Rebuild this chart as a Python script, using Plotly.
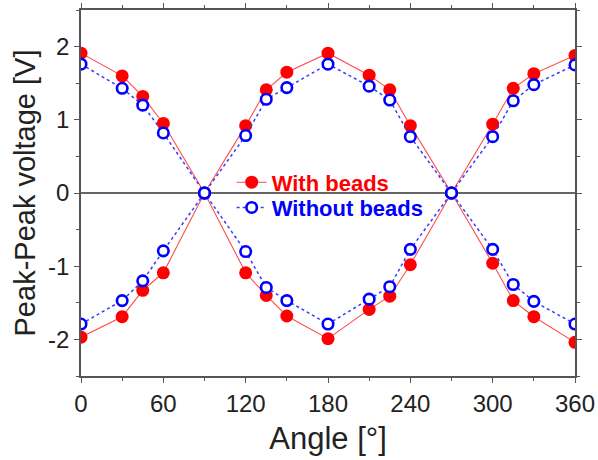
import plotly.graph_objects as go

# Rotation angle of the sensor [deg]
angles = [0, 30, 45, 60, 90, 120, 135, 150, 180, 210, 225, 240, 270, 300, 315, 330, 360]

# Peak-peak voltage [V], two signal branches per condition
with_beads_a = [1.91, 1.60, 1.32, 0.95, 0, -1.09, -1.40, -1.68, -1.99, -1.59, -1.41, -0.98, 0, 0.94, 1.43, 1.63, 1.88]
with_beads_b = [-1.97, -1.69, -1.33, -1.09, 0, 0.92, 1.41, 1.65, 1.91, 1.61, 1.41, 0.92, 0, -0.96, -1.47, -1.69, -2.04]
without_beads_a = [1.76, 1.43, 1.20, 0.82, 0, -0.80, -1.29, -1.47, -1.79, -1.45, -1.28, -0.77, 0, 0.77, 1.26, 1.48, 1.75]
without_beads_b = [-1.79, -1.47, -1.20, -0.79, 0, 0.785, 1.28, 1.44, 1.76, 1.46, 1.27, 0.77, 0, -0.77, -1.25, -1.48, -1.79]

x_ticks = [0, 60, 120, 180, 240, 300, 360]
y_ticks = [-2, -1, 0, 1, 2]
y_tick_text = ["-2", "-1", "0", "1", "2"]

FONT = "Liberation Sans, Arial, sans-serif"
RED = "#ff0000"
BLUE = "#0000ff"

fig = go.Figure()

for i, ys in enumerate([with_beads_a, with_beads_b]):
    fig.add_trace(go.Scatter(
        x=angles, y=ys, mode="lines+markers",
        name="<b>With beads</b>", legend="legend",
        showlegend=(i == 0),
        line=dict(color="#ff4d4d", width=1.1),
        marker=dict(symbol="circle", size=13, color=RED, line=dict(width=0)),
    ))

for i, ys in enumerate([without_beads_a, without_beads_b]):
    fig.add_trace(go.Scatter(
        x=angles, y=ys, mode="lines+markers",
        name="<b>Without beads</b>", legend="legend2",
        showlegend=(i == 0),
        line=dict(color="#3a3aff", width=1.5, dash="dot"),
        marker=dict(symbol="circle", size=10.5, color="white",
                    line=dict(color=BLUE, width=2.6)),
    ))

axis_common = dict(
    showline=True, mirror="ticks", linecolor="#555555", linewidth=1.5,
    ticks="outside", ticklen=5, tickwidth=1.2, tickcolor="#555555",
    showgrid=False, automargin=False,
    tickfont=dict(family=FONT, size=24, color="#222222"),
)

fig.update_xaxes(
    range=[0, 360], tickvals=x_ticks,
    minor=dict(dtick=30, ticks="outside", ticklen=3, tickcolor="#555555"),
    title=dict(text="Angle [°]", font=dict(family=FONT, size=31, color="#222222"), standoff=12),
    zeroline=False,
    **axis_common,
)
fig.update_yaxes(
    range=[-2.5, 2.5], tickvals=y_ticks, ticktext=y_tick_text,
    minor=dict(dtick=0.5, ticks="outside", ticklen=3, tickcolor="#555555"),
    title=dict(text="Peak-Peak voltage [V]", font=dict(family=FONT, size=29, color="#222222"), standoff=4),
    zeroline=True, zerolinecolor="#666666", zerolinewidth=1.6,
    **axis_common,
)

legend_common = dict(
    xanchor="left", yanchor="middle",
    bgcolor="rgba(0,0,0,0)", borderwidth=0,
    tracegroupgap=0, itemwidth=30,
)

fig.update_layout(
    width=598, height=460,
    margin=dict(l=81, r=23, t=10, b=84),
    paper_bgcolor="white", plot_bgcolor="white",
    showlegend=True,
    legend=dict(x=0.305, y=0.529, font=dict(family=FONT, size=22, color=RED), **legend_common),
    legend2=dict(x=0.305, y=0.460, font=dict(family=FONT, size=22, color=BLUE), **legend_common),
)

fig.write_html("out.html")
